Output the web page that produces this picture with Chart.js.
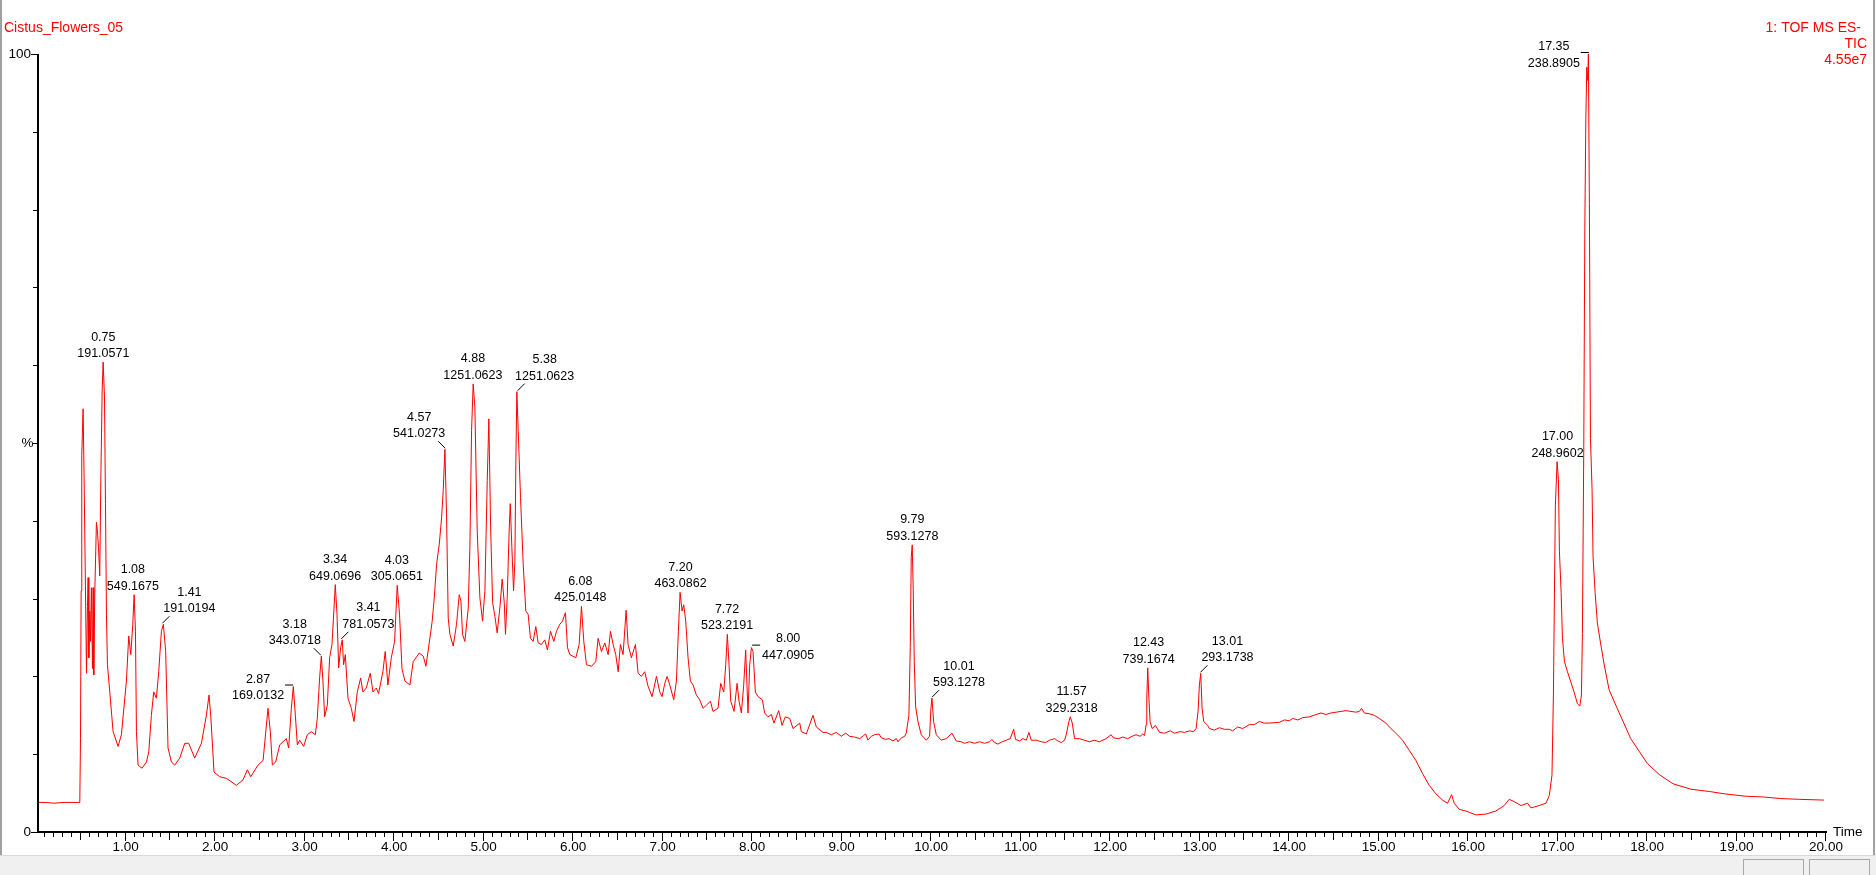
<!DOCTYPE html>
<html><head><meta charset="utf-8">
<script src="https://cdn.jsdelivr.net/npm/chart.js@4.4.0/dist/chart.umd.min.js"></script>
<style>html,body{margin:0;padding:0;background:#fff;overflow:hidden}canvas{display:block}</style>
</head><body>
<canvas id="c" width="1876" height="875" style="width:1876px;height:875px"></canvas>
<script>
// ---------- data ----------
const sampleName = 'Cistus_Flowers_05';
const traceInfo = ['1: TOF MS ES-', 'TIC', '4.55e7'];
const xTickLabels = ['1.00','2.00','3.00','4.00','5.00','6.00','7.00','8.00','9.00','10.00',
  '11.00','12.00','13.00','14.00','15.00','16.00','17.00','18.00','19.00','20.00'];
const xTickValues = [1,2,3,4,5,6,7,8,9,10,11,12,13,14,15,16,17,18,19,20];
const yTickLabels = ['0','%','100'];
const yTickValues = [0,50,100];
const xAxisTitle = 'Time';

// retention time (min) / intensity (% of 4.55e7) in parts
const rtPart1 = [
  0.02,0.10,0.20,0.30,0.40,0.487,0.495,0.502,0.509,0.524,
  0.535,0.562,0.573,0.580,0.588,0.599,0.606,0.617,0.629,0.636,
  0.643,0.655,0.673,0.684,0.696,0.710,0.722,0.737,0.748,0.763,
  0.774,0.785,0.796,0.822,0.859,0.915,0.952,1.008,1.034,1.057,
  1.079,1.094,1.109,1.120,1.138,1.183,1.232,1.258,1.287,1.313,
  1.343,1.369,1.399,1.421,1.447,1.473,1.511,1.548,1.604,1.660,
  1.704,1.771,1.846,1.902,1.931,1.950,1.987,2.051,2.125,2.237,
  2.311,2.360,2.397,2.479,2.535,2.590,2.616,2.639,2.676,2.721,
  2.795,2.821,2.851,2.873,2.896,2.918,2.944,2.989,3.029,3.074,
  3.119,3.141,3.167,3.186,3.204,3.223,3.253,3.279,3.305,3.324,
  3.342,3.361,3.380,3.402,3.420,3.435,3.454,3.484,3.521,3.551,
  3.588,3.625,3.651,3.688,3.733,3.763,3.800,3.826,3.874,3.900,
  3.930,3.968,4.005,4.034,4.060,4.087
];
const intPart1 = [
  3.8,3.8,3.7,3.8,3.8,3.8,12,31,48.4,54.4,
  45.6,20.4,29,32.7,22.4,28.4,24.5,31.4,21,31.4,
  20.2,31,39.8,38.7,36.6,32.9,45.2,56.8,60.4,55.9,
  42.2,28,21.5,18,12.9,11,12.5,19.4,25.2,22.8,
  26.7,30.5,25.8,12.9,8.6,8.2,9,10.3,15,18,
  17.2,20.6,25.8,26.7,23.2,10.8,9,8.6,9.5,11.4,
  11.4,9.5,11.4,15,17.6,15,7.7,7.1,6.9,6,
  6.7,8,7.1,8.6,9.2,15.9,12.9,8.6,9,11.2,
  12,10.8,15.9,18.7,15,11.2,11.8,11,12.5,12.9,
  12.5,14.6,19.8,22.6,19.4,14.8,16.3,22.4,24.1,28,
  31.8,28,21.1,23.7,24.7,21.5,22.8,17.2,15.9,14.2,
  18,19.8,18,18.5,20.4,18,18.5,17.8,20.6,23.2,
  18.9,22.4,24.5,31.7,28,21
];
const rtPart2 = [
  4.120,4.176,4.213,4.280,
  4.325,4.355,4.392,4.425,4.448,4.474,4.504,4.530,4.548,4.567,
  4.585,4.604,4.623,4.660,4.697,4.727,4.746,4.764,4.790,4.828,
  4.846,4.865,4.883,4.902,4.928,4.958,4.988,5.014,5.040,5.058,
  5.077,5.100,5.126,5.151,5.181,5.207,5.230,5.244,5.263,5.285,
  5.297,5.315,5.334,5.349,5.360,5.371,5.386,5.412,5.442,5.471,
  5.497,5.523,5.553,5.583,5.609,5.646,5.683,5.713,5.747,5.784,
  5.814,5.851,5.881,5.914,5.937,5.963,6.030,6.067,6.093,6.119,
  6.149,6.205,6.253,6.279,6.316,6.354,6.391,6.417,6.447,6.476,
  6.503,6.528,6.558,6.592,6.614,6.651,6.696,6.726,6.763,6.800,
  6.838,6.882,6.931,6.968,6.994,7.024,7.050,7.080,7.124,7.154,
  7.176,7.195,7.217,7.236,7.258,7.284,7.310,7.340,7.377,7.414,
  7.452,7.489,7.534,7.563,7.619,7.649,7.683,7.705,7.723,7.742,
  7.761,7.798,7.832,7.854,7.880,7.906,7.928,7.954,7.973,7.992,
  8.010,8.036,8.066,8.114,8.140,8.178,8.215,8.244,8.297,8.334,
  8.371,8.420,8.457,8.532,8.550,8.606,8.680
];
const intPart2 = [
  19.4,18.9,21.9,23,
  22.6,21.3,24.3,27.1,30.1,34.4,37,40.4,43.9,49.2,
  40.9,27.5,25.4,23.9,26.7,30.5,29.7,25.4,24.5,28.8,
  36.6,51.6,57.6,54.6,38.7,30.1,27.1,31,45.2,53.1,
  39.6,29.5,27.7,25.6,28.8,32.5,29.5,25.4,30.1,38.7,
  42.2,36.6,31,34.8,47.7,56.6,51.6,43,34.4,28.4,
  28,24.9,24.5,26.4,24.3,24.1,24.7,23.4,25.8,24.5,
  25.8,26.7,27.1,28.2,23.7,22.8,22.4,24.1,29,24.5,
  21.5,21.3,21.9,24.9,23.2,24.3,22.8,25.8,24.1,22.8,
  20.6,24.1,22.8,28.5,24.1,22.4,24.1,20.4,20,20.6,
  18.7,17.4,20,18,17.4,19.1,20,18.9,17,19.4,
  25.8,30.8,28.4,29.2,27.1,22.4,19.4,18.9,17.6,17,
  15.9,16.3,16.8,15.5,15.9,19.1,18,21.5,25.4,21.5,
  16.8,15.5,19.1,16.8,15.3,18.9,23.4,15.3,21.5,23.7,
  23.2,18,17.4,17,15.3,14.8,15.1,14,15.6,13.7,
  14.8,14.6,13.3,14,12.9,12.6,15
];
const rtPart3 = [
  8.717,8.792,8.829,8.885,8.941,8.997,9.045,9.090,9.146,9.202,
  9.246,9.269,9.295,9.332,9.369,9.418,9.444,9.492,9.530,9.574,
  9.612,9.630,9.668,9.705,9.722,
  9.752,9.767,9.778,9.789,9.800,9.812,9.827,9.853,9.890,9.946,
  9.983,9.998,10.009,10.028,10.058,10.114,10.169,10.233
];
const intPart3 = [
  13.5,12.8,12.8,12.5,12.8,12.3,12.7,12.3,12.2,12,
  12.4,12.6,11.8,12.3,12.5,12.6,12.1,11.9,12,11.7,
  12,11.6,12.1,12.3,12.7,
  15,23.7,35.3,36.9,31.2,21.9,16.1,14.2,12.5,11.8,
  12.3,15.9,17.2,14.2,12.5,11.8,12,12.7
];
const rtPart4 = [
  10.281,10.337,10.374,10.430,10.486,10.542,10.597,10.653,10.679,10.709,
  10.746,10.795,10.840,10.884,10.922,10.944,10.989,11.026,11.064,11.093,
  11.119,11.175,11.231,11.280,11.324,11.380,11.417,11.455,11.492,
  11.510,11.540,11.555,11.577,11.603,11.62,11.657,11.713,11.769,11.825,11.881,
  11.955,12.011,12.037,12.097,12.141,12.197,12.245,12.29,12.335,12.365,12.385
];
const intPart4 = [
  11.7,11.6,11.4,11.6,11.4,11.6,11.4,11.6,11.9,11.5,
  11.3,11.6,11.8,12,13.2,11.9,11.7,12,11.8,12.8,
  11.8,11.8,11.6,11.5,11.8,12,11.7,11.5,11.8,
  12.5,14.2,14.8,14,12,12,12,11.8,11.6,11.8,11.6,
  12,12.5,12.1,12,12.2,12,12.3,12.5,12.3,12.6,12.4
];
const rtPart5 = [
  12.403,12.410,12.421,12.432,12.447,12.470,12.507,12.552,12.608,12.671,
  12.720,12.783,12.832,12.887,12.932,12.961,12.983,12.998,13.013,13.028,
  13.046,13.091,
  13.109,13.165,13.221,13.277,13.333,13.370,13.426,13.482,13.556,13.612,
  13.668,13.724,13.780,13.892,13.948,14.004,14.041,14.097,14.153,14.227,
  14.302,14.357,14.412,14.469,14.525,14.580,14.636,14.692,14.747,14.785,
  14.810,14.840,14.896,14.952,15.008
];
const intPart5 = [
  13.8,17.2,21.1,17.6,14.2,13.3,13.7,12.8,12.7,13,
  12.7,12.9,12.8,13,12.9,13.3,15.5,18.9,20.4,15.9,
  14.2,13.7,
  13.3,13.1,13.4,13.2,13.2,13,13.5,13.3,13.8,13.8,
  14.2,14,14,14.1,14.4,14.3,14.6,14.4,14.7,14.8,
  15.1,15.3,15.1,15.3,15.4,15.5,15.6,15.5,15.4,15.5,
  15.9,15.3,15.2,15,14.6
];
const rtPart6 = [
  15.082,15.138,15.194,15.268,15.343,15.417,15.492,15.566,15.641,15.715,
  15.771,15.816,15.846,15.902,15.976,16.088,16.200,16.311,16.404,16.460,
  16.516,16.591,16.665,16.703,16.796,16.871,16.908,16.938
];
const intPart6 = [
  14,13.3,12.7,11.8,10.5,9.2,7.5,6,4.9,4.1,
  3.7,4.8,3.7,2.9,2.7,2.2,2.3,2.7,3.4,4.2,
  3.9,3.4,3.7,3.1,3.4,3.7,4.7,7.3
];
const rtPart7 = [
  16.954,16.965,16.976,16.995,17.010,17.021,17.040,17.055,17.077,17.111,
  17.148,17.185,17.222,17.249,17.267,17.278,17.293,17.305,17.316,17.327,
  17.338,17.345,17.356,17.368,17.386,17.397,17.420,17.445,17.472,17.520,
  17.576,17.651,17.725,17.818,17.911,18.004,18.135,18.29,18.49,18.70,
  18.87,19.10,19.30,19.49,19.70,19.977
];
const intPart7 = [
  17.6,30.2,42,47.6,45.3,36.1,30.8,24.9,21.9,20.6,
  19.3,18,16.5,16.2,17.6,25.5,49.2,77.6,91.4,98.3,
  96.6,100,80.8,50.6,44,35.4,30.8,26.9,24.9,21.6,
  18.3,16.3,14.4,12,10.4,8.8,7.4,6.2,5.5,5.2,
  4.9,4.6,4.5,4.3,4.2,4.1
];
const retentionTime = [...rtPart1, ...rtPart2, ...rtPart3, ...rtPart4, ...rtPart5, ...rtPart6, ...rtPart7];
const intensityPct  = [...intPart1, ...intPart2, ...intPart3, ...intPart4, ...intPart5, ...intPart6, ...intPart7];

const peakTimes   = ['0.75','1.08','1.41','2.87','3.18','3.34','3.41','4.03','4.57','4.88','5.38',
                     '6.08','7.20','7.72','8.00','9.79','10.01','11.57','12.43','13.01','17.00','17.35'];
const peakMz      = ['191.0571','549.1675','191.0194','169.0132','343.0718','649.0696','781.0573','305.0651',
                     '541.0273','1251.0623','1251.0623','425.0148','463.0862','523.2191','447.0905','593.1278',
                     '593.1278','329.2318','739.1674','293.1738','248.9602','238.8905'];
const peakHeights = [60.4,30.5,26.7,18.7,22.6,31.8,24.7,31.7,49.2,57.6,56.6,
                     29,30.8,25.4,23.7,36.9,17.2,14.8,21.1,20.4,47.6,100];

// ---------- layout / style (not data) ----------
const peakPlacement = ['up','up','ur','hl','ul','up','ur','up','ul','up','ur',
                       'up','up','up','hr','up','ur','up','up','ur','up','hl'];
const placementGeom = {
  up: {dx:0,   l1:-25, l2:-8.5, lead:null},
  ur: {dx:27,  l1:-32, l2:-15.5, lead:[0,-1,7,-8]},
  ul: {dx:-26, l1:-32, l2:-15.5, lead:[0,-1,-7,-8]},
  hl: {dx:-35, l1:-7,  l2:9.5,  lead:[-8,-1.5,0,-1.5]},
  hr: {dx:36,  l1:-9,  l2:7.5,  lead:[0,-2.5,8,-2.5]}
};
const FONT = '"Liberation Sans", Arial, sans-serif';

const framePlugin = {
  id: 'frame',
  beforeDraw(chart) {
    const ctx = chart.ctx;
    ctx.save();
    ctx.fillStyle = '#ffffff';
    ctx.fillRect(0, 0, 1876, 875);
    ctx.fillStyle = '#f0f0f0';
    ctx.fillRect(0, 856, 1876, 19);
    ctx.fillStyle = '#d9d9d9';
    ctx.fillRect(0, 855, 1876, 1);
    ctx.strokeStyle = '#a8a8a8';
    ctx.lineWidth = 1;
    ctx.strokeRect(1743.5, 859.5, 60, 24);
    ctx.strokeRect(1809.5, 859.5, 60, 24);
    ctx.fillStyle = '#a0a0a0';
    ctx.fillRect(0, 0, 2, 855);
    ctx.fillRect(1873, 0, 2, 855);
    ctx.restore();
  },
  afterDraw(chart) {
    const ctx = chart.ctx;
    const xs = chart.scales.x, ys = chart.scales.y;
    const ca = chart.chartArea;
    const x0 = Math.round(ca.left), x1 = Math.round(ca.right);
    const yTop = Math.round(ys.getPixelForValue(100)), yBot = Math.round(ys.getPixelForValue(0));
    ctx.save();
    ctx.fillStyle = '#000';
    ctx.fillRect(x0 - 1, yTop, 2, yBot - yTop + 1);
    ctx.fillRect(x0 - 1, yBot - 1, x1 - x0 + 2, 2);
    for (let i = 1; i <= 200; i++) {
      const t = i / 10;
      if (t < xs.min) continue;
      const px = Math.round(xs.getPixelForValue(t));
      const len = (i % 10 === 0) ? 8 : (i % 5 === 0 ? 7 : 4);
      ctx.fillRect(px - 1, yBot + 1, 1, len);
    }
    for (let v = 0; v <= 100; v += 10) {
      const py = Math.round(ys.getPixelForValue(v));
      const len = (v === 0 || v === 100) ? 6 : 4;
      ctx.fillRect(x0 - 1 - len, py, len, 1);
    }
    ctx.font = '13.5px ' + FONT;
    ctx.textAlign = 'center';
    ctx.textBaseline = 'middle';
    xTickValues.forEach((v, i) => {
      ctx.fillText(xTickLabels[i], xs.getPixelForValue(v), yBot + 15);
    });
    ctx.textAlign = 'left';
    ctx.fillText(xAxisTitle, x1 + 7, yBot);
    ctx.textAlign = 'right';
    yTickValues.forEach((v, i) => {
      const py = ys.getPixelForValue(v);
      if (yTickLabels[i] === '%') {
        ctx.textAlign = 'center';
        ctx.fillText('%', 27.5, py);
        ctx.textAlign = 'right';
      } else {
        ctx.fillText(yTickLabels[i], 31, py);
      }
    });
    ctx.fillStyle = '#ff0000';
    ctx.font = '14px ' + FONT;
    ctx.textAlign = 'left';
    ctx.fillText(sampleName, 4, 28);
    ctx.textAlign = 'right';
    ctx.fillText(traceInfo[0], 1861, 28);
    ctx.fillText(traceInfo[1], 1867, 44);
    ctx.fillText(traceInfo[2], 1867, 60);
    ctx.fillStyle = '#000';
    ctx.strokeStyle = '#000';
    ctx.lineWidth = 1;
    ctx.font = '12.5px ' + FONT;
    ctx.textAlign = 'center';
    peakTimes.forEach((t, i) => {
      const px = xs.getPixelForValue(parseFloat(t));
      const py = ys.getPixelForValue(peakHeights[i]);
      const g = placementGeom[peakPlacement[i]];
      ctx.fillText(t, px + g.dx, py + g.l1);
      ctx.fillText(peakMz[i], px + g.dx, py + g.l2);
      if (g.lead) {
        ctx.beginPath();
        ctx.moveTo(px + g.lead[0], py + g.lead[1]);
        ctx.lineTo(px + g.lead[2], py + g.lead[3]);
        ctx.stroke();
      }
    });
    ctx.restore();
  }
};

new Chart(document.getElementById('c'), {
  type: 'line',
  data: {
    datasets: [{
      label: 'TIC',
      data: retentionTime.map((t, i) => ({x: t, y: intensityPct[i]})),
      borderColor: '#ff0000',
      borderWidth: 1,
      pointRadius: 0,
      tension: 0,
      fill: false
    }]
  },
  options: {
    responsive: false,
    animation: false,
    devicePixelRatio: 1,
    layout: {padding: {left: 38, right: 50, top: 54, bottom: 43}},
    plugins: {legend: {display: false}, tooltip: {enabled: false}, title: {display: false}},
    scales: {
      x: {type: 'linear', min: 0.02, max: 20, display: false},
      y: {type: 'linear', min: 0, max: 100, display: false}
    }
  },
  plugins: [framePlugin]
});
</script>
</body></html>
